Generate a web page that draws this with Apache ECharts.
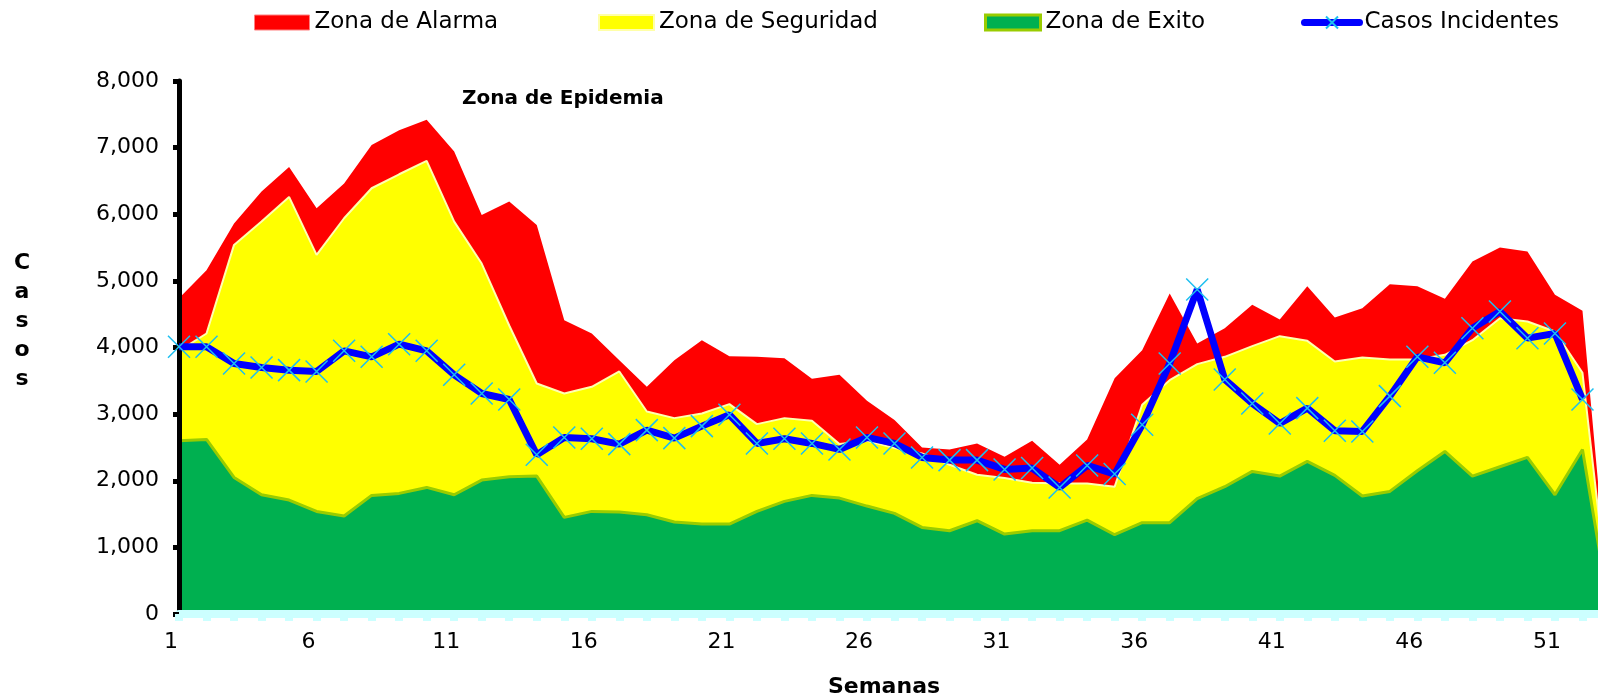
<!DOCTYPE html>
<html>
<head>
<meta charset="utf-8">
<title>Canal endémico</title>
<script src="https://cdn.jsdelivr.net/npm/echarts@6/dist/echarts.min.js"></script>
<style>
    html, body { margin: 0; padding: 0; background: #fff; overflow: hidden; }
    /* el area de trazado sigue hasta la semana 53, que queda fuera del borde derecho */
    #chart { width: 1610px; height: 700px; }
</style>
</head>
<body>
<div id="chart"></div>
<script>
    // semanas epidemiologicas 1..53
    var semanas = ['1','2','3','4','5','6','7','8','9','10','11','12','13','14','15','16','17','18',
        '19','20','21','22','23','24','25','26','27','28','29','30','31','32','33','34','35','36',
        '37','38','39','40','41','42','43','44','45','46','47','48','49','50','51','52','53'];

    var zonaAlarma = [4740,5160,5860,6340,6710,6090,6460,7040,7260,7420,6940,5990,6190,5840,4410,4210,3810,3410,
        3810,4110,3870,3860,3840,3530,3590,3200,2910,2500,2470,2560,2360,2600,2240,2620,3540,3960,
        4810,4060,4290,4640,4420,4920,4450,4590,4950,4920,4730,5290,5500,5440,4790,4550,0];

    var zonaSeguridad = [3950,4210,5540,5890,6260,5390,5940,6390,6600,6800,5890,5260,4330,3460,3310,3410,3640,3040,
        2940,3010,3150,2850,2940,2900,2550,2600,2490,2410,2240,2090,2040,1970,1960,1960,1910,3140,
        3510,3750,3860,4020,4170,4100,3790,3850,3820,3820,3890,4110,4440,4390,4240,3620,0];

    var zonaExito = [2600,2620,2050,1790,1710,1540,1470,1780,1810,1900,1790,2010,2060,2070,1450,1540,1530,1490,
        1380,1350,1350,1540,1690,1780,1740,1620,1510,1300,1250,1400,1200,1250,1250,1410,1190,1370,
        1370,1730,1910,2140,2070,2290,2080,1770,1840,2150,2440,2070,2210,2350,1790,2470,0];

    var casos = [4010,4010,3760,3700,3660,3640,3950,3860,4050,3950,3590,3310,3220,2390,2650,2630,2550,2760,
        2640,2820,2990,2560,2630,2560,2470,2650,2560,2350,2310,2310,2170,2190,1900,2230,2100,2840,
        3760,4870,3520,3160,2860,3090,2750,2740,3270,3860,3770,4290,4540,4140,4210,3220];

    var fuente = 'DejaVu Sans';
    var marcaX = 'path://M0,0L10,10M10,0L0,10';

    function leyenda(left, item) {
        return {
            left: left, top: 6,
            itemWidth: 55, itemHeight: 15, itemGap: 5,
            textStyle: {fontFamily: fuente, fontSize: 23, color: '#000'},
            data: [item]
        };
    }

    var chart = echarts.init(document.getElementById('chart'));
    var option = {
        animation: false,
        backgroundColor: '#fff',
        legend: [
            leyenda(249, {name: 'Zona de Alarma', icon: 'rect',
                itemStyle: {color: '#ff0000', borderColor: '#ff8080', borderWidth: 1}}),
            leyenda(593, {name: 'Zona de Seguridad', icon: 'rect',
                itemStyle: {color: '#ffff00', borderColor: '#ffffa8', borderWidth: 2}}),
            leyenda(979, {name: 'Zona de Exito', icon: 'rect',
                itemStyle: {color: '#00b050', borderColor: '#99cc00', borderWidth: 3}}),
            leyenda(1296, {name: 'Casos Incidentes',
                lineStyle: {color: '#0000ff', width: 7, cap: 'round'}})
        ],
        grid: {left: 179, top: 81, right: 0, height: 533},
        xAxis: {
            type: 'category',
            data: semanas,
            boundaryGap: false,
            z: 10,
            axisLine: {lineStyle: {color: '#ccffff', width: 8}},
            axisTick: {interval: 0, length: 7, lineStyle: {color: '#ccffff', width: 8}},
            axisLabel: {
                interval: 4, margin: 17, padding: [0, 16, 0, 0],
                fontFamily: fuente, fontSize: 22, color: '#000'
            },
            splitLine: {show: false}
        },
        yAxis: {
            type: 'value',
            min: 0, max: 8000, interval: 1000,
            z: 10,
            axisLine: {show: true, lineStyle: {color: '#000', width: 5}},
            axisTick: {show: true, length: 6, lineStyle: {color: '#000', width: 5}},
            axisLabel: {
                margin: 20, fontFamily: fuente, fontSize: 22, color: '#000',
                formatter: function (v) { return v.toLocaleString('en-US'); }
            },
            splitLine: {show: false}
        },
        graphic: [
            {type: 'text', left: 462, top: 89,
                style: {text: 'Zona de Epidemia', font: 'bold 20px "DejaVu Sans"', fill: '#000'}},
            {type: 'text', x: 22, y: 321,
                style: {text: 'C\na\ns\no\ns', font: 'bold 22px "DejaVu Sans"', fill: '#000',
                    align: 'center', verticalAlign: 'middle', lineHeight: 29}},
            {type: 'text', x: 884, y: 687,
                style: {text: 'Semanas', font: 'bold 22px "DejaVu Sans"', fill: '#000',
                    align: 'center', verticalAlign: 'middle'}}
        ],
        series: [
            {
                name: 'Zona de Alarma', type: 'line', data: zonaAlarma,
                symbol: 'none', z: 2,
                itemStyle: {color: '#ff0000'},
                lineStyle: {color: '#ff0000', width: 0},
                areaStyle: {color: '#ff0000', opacity: 1}
            },
            {
                name: 'Zona de Seguridad', type: 'line', data: zonaSeguridad,
                symbol: 'none', z: 3,
                itemStyle: {color: '#ffff00'},
                lineStyle: {color: '#ffffb0', width: 2},
                areaStyle: {color: '#ffff00', opacity: 1}
            },
            {
                name: 'Zona de Exito', type: 'line', data: zonaExito,
                symbol: 'none', z: 4,
                itemStyle: {color: '#00b050'},
                lineStyle: {color: '#99cc00', width: 3},
                areaStyle: {color: '#00b050', opacity: 1}
            },
            {
                name: 'Casos Incidentes', type: 'line', data: casos,
                symbol: marcaX, symbolSize: 22, showAllSymbol: true, z: 12,
                itemStyle: {color: '#1cbff0', borderColor: '#1cbff0', borderWidth: 1.5},
                lineStyle: {color: '#0000ff', width: 7}
            }
        ]
    };
    chart.setOption(option);
</script>
</body>
</html>
